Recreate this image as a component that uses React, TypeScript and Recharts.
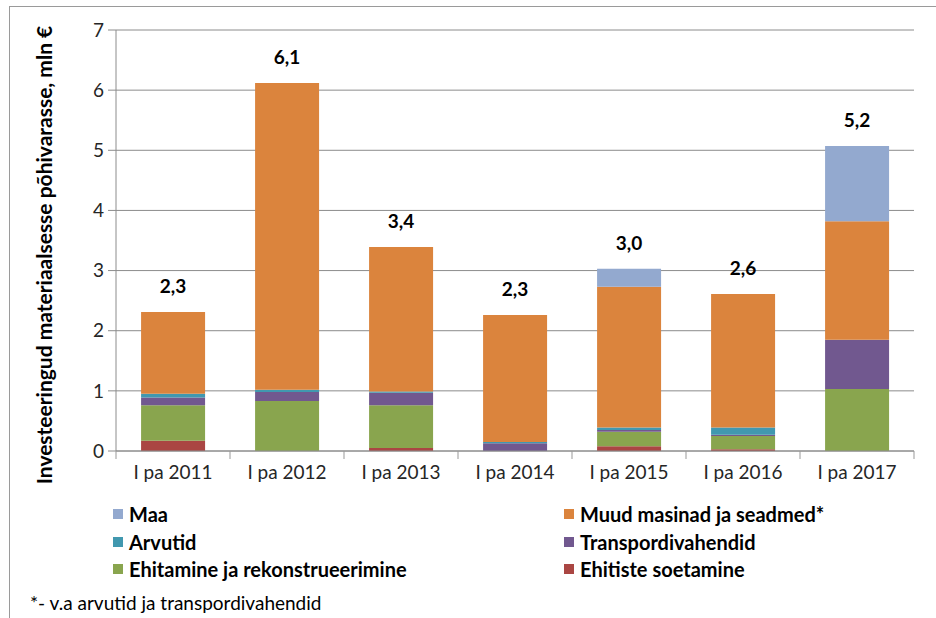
import {
  BarChart,
  Bar,
  XAxis,
  YAxis,
  CartesianGrid,
  LabelList,
} from 'recharts';

const periods = ['I pa 2011', 'I pa 2012', 'I pa 2013', 'I pa 2014', 'I pa 2015', 'I pa 2016', 'I pa 2017'];
const ehitisteSoetamine = [0.17, 0, 0.05, 0, 0.08, 0.03, 0];
const ehitamine = [0.59, 0.83, 0.71, 0, 0.24, 0.22, 1.03];
const transport = [0.13, 0.15, 0.21, 0.13, 0.03, 0.02, 0.82];
const arvutid = [0.06, 0.04, 0.02, 0.02, 0.04, 0.12, 0];
const muud = [1.36, 5.1, 2.4, 2.11, 2.34, 2.22, 1.97];
const maa = [0, 0, 0, 0, 0.3, 0, 1.25];
const totals = [2.3, 6.1, 3.4, 2.3, 3.0, 2.6, 5.2];
const yTicks = [0, 1, 2, 3, 4, 5, 6, 7];

const series = [
  { key: 'ehitisteSoetamine', name: 'Ehitiste soetamine', color: '#AA4643' },
  { key: 'ehitamine', name: 'Ehitamine ja rekonstrueerimine', color: '#89A54E' },
  { key: 'transport', name: 'Transpordivahendid', color: '#71588F' },
  { key: 'arvutid', name: 'Arvutid', color: '#4198AF' },
  { key: 'muud', name: 'Muud masinad ja seadmed*', color: '#DB843D' },
  { key: 'maa', name: 'Maa', color: '#93A9CF' },
];

// legend order as in the picture: two columns, three rows
const legendOrder = ['maa', 'muud', 'arvutid', 'transport', 'ehitamine', 'ehitisteSoetamine'];

const data = periods.map((p, i) => ({
  period: p,
  ehitisteSoetamine: ehitisteSoetamine[i],
  ehitamine: ehitamine[i],
  transport: transport[i],
  arvutid: arvutid[i],
  muud: muud[i],
  maa: maa[i],
  total: totals[i],
}));

// the highest non-zero segment of each bar carries the total label
const topKey = data.map((d: any) => {
  let k = series[0].key;
  series.forEach((s) => {
    if (d[s.key] > 0) k = s.key;
  });
  return k;
});

const FONT = 'Lato, "Open Sans", sans-serif';
const PLOT_LEFT = 116;
const BAND = (914 - PLOT_LEFT) / periods.length;

const fmt = (v: number) => v.toFixed(1).replace('.', ',');

const XTick = (props: any) => {
  const { x, y, payload, index } = props;
  const isLast = index === periods.length - 1;
  return (
    <g>
      <line x1={x - BAND / 2} y1={y - 8} x2={x - BAND / 2} y2={y} stroke="#999" />
      {isLast && <line x1={x + BAND / 2} y1={y - 8} x2={x + BAND / 2} y2={y} stroke="#999" />}
      <text x={x} y={y + 20} textAnchor="middle" fontSize={19} fill="#262626" fontFamily={FONT}>
        {payload.value}
      </text>
    </g>
  );
};

const totalLabel = (key: string) => (props: any) => {
  const { x, y, width } = props;
  const cx = Number(x) + Number(width) / 2;
  // zero segments are skipped by the library, so find the category from the position
  const i = Math.floor((cx - PLOT_LEFT) / BAND);
  if (topKey[i] !== key) return null;
  return (
    <text x={cx} y={Number(y) - 19} textAnchor="middle" fontSize={19} fontWeight="bold" fill="#000" fontFamily={FONT}>
      {fmt(totals[i])}
    </text>
  );
};

export default function App() {
  return (
    <div style={{ position: 'absolute', left: 0, top: 0, width: 936, height: 618, background: '#fff', fontFamily: FONT }}>
      <div
        style={{
          position: 'absolute',
          left: 9,
          top: 6,
          width: 940,
          height: 620,
          borderLeft: '1px solid #9a9a9a',
          borderTop: '1px solid #9a9a9a',
        }}
      />
      <div style={{ position: 'absolute', left: 0, top: 0 }}>
        <BarChart
          width={936}
          height={490}
          data={data}
          margin={{ top: 30, right: 22, left: 0, bottom: 9 }}
          barCategoryGap="22%"
        >
          <CartesianGrid vertical={false} stroke="#8c8c8c" />
          <XAxis
            dataKey="period"
            height={30}
            tickLine={false}
            axisLine={{ stroke: '#8c8c8c' }}
            tick={<XTick />}
            interval={0}
          />
          <YAxis
            width={PLOT_LEFT}
            domain={[0, 7]}
            ticks={yTicks}
            tickSize={8}
            tickMargin={4}
            tickLine={{ stroke: '#8c8c8c' }}
            axisLine={{ stroke: '#8c8c8c' }}
            tick={{ fontSize: 19, fill: '#262626', fontFamily: FONT }}
            label={{
              content: () => (
                <text
                  x={43}
                  y={255}
                  transform="rotate(-90 43 255)"
                  textAnchor="middle"
                  dominantBaseline="central"
                  fontSize={21}
                  fontWeight="bold"
                  fill="#000"
                  fontFamily={FONT}
                >
                  Investeeringud materiaalsesse põhivarasse, mln €
                </text>
              ),
            }}
          />
          <YAxis
            yAxisId="right"
            orientation="right"
            width={0}
            domain={[0, 7]}
            tick={false}
            tickLine={false}
            axisLine={{ stroke: '#b0b0b0' }}
          />
          {series.map((s) => (
            <Bar key={s.key} dataKey={s.key} name={s.name} stackId="a" fill={s.color} isAnimationActive={false}>
              <LabelList dataKey={s.key} content={totalLabel(s.key)} />
            </Bar>
          ))}
        </BarChart>
      </div>
      {legendOrder.map((k, i) => {
        const s = series.find((x) => x.key === k)!;
        const col = i % 2;
        const row = Math.floor(i / 2);
        return (
          <div
            key={k}
            style={{
              position: 'absolute',
              left: col === 0 ? 113 : 564,
              top: 503 + row * 27.5,
              height: 22,
              display: 'flex',
              alignItems: 'center',
              fontSize: 20,
              fontWeight: 'bold',
              color: '#000',
              whiteSpace: 'nowrap',
            }}
          >
            <span style={{ width: 10, height: 10, background: s.color, marginRight: 6, display: 'inline-block' }} />
            {s.name}
          </div>
        );
      })}
      <div style={{ position: 'absolute', left: 30, top: 591, fontSize: 19, color: '#000', whiteSpace: 'nowrap' }}>
        *- v.a arvutid ja transpordivahendid
      </div>
    </div>
  );
}
